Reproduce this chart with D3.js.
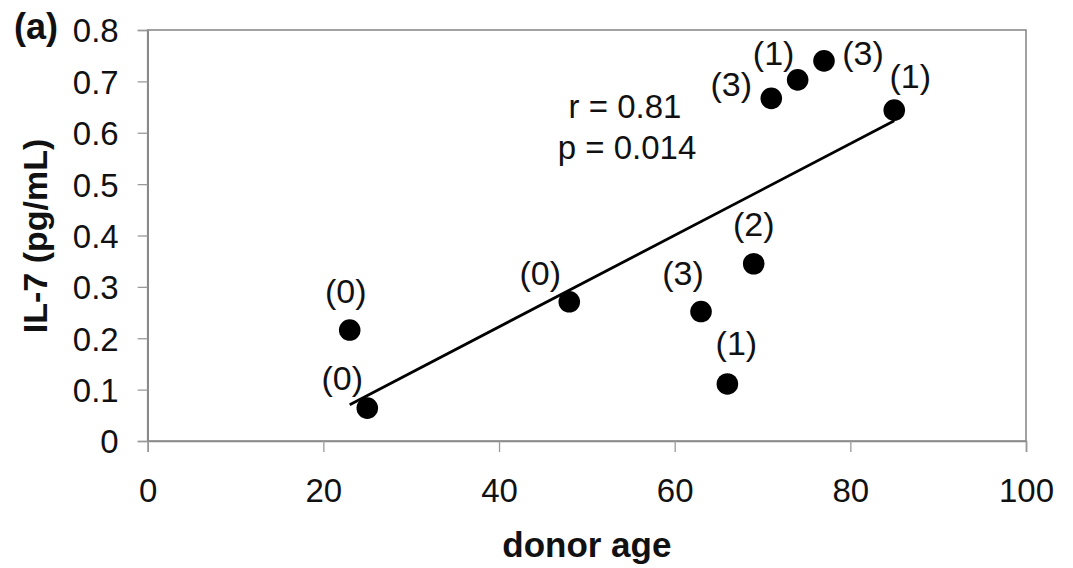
<!DOCTYPE html>
<html>
<head>
<meta charset="utf-8">
<script src="https://cdn.jsdelivr.net/npm/d3@7"></script>
<style>
  html, body { margin: 0; padding: 0; background: #fff; }
  svg { display: block; }
  text { font-family: "Liberation Sans", Arial, sans-serif; fill: #111; }
</style>
</head>
<body>
<svg id="chart" width="1073" height="568"></svg>
<script>
// ---- data ----
const donorAge = [23, 25, 48, 63, 66, 69, 71, 74, 77, 85];
const il7      = [0.216, 0.064, 0.271, 0.252, 0.111, 0.345, 0.667, 0.703, 0.740, 0.644];
const pointLabels = ["(0)", "(0)", "(0)", "(3)", "(1)", "(2)", "(3)", "(1)", "(3)", "(1)"];
const xTicks = [0, 20, 40, 60, 80, 100];
const yTicks = [0, 0.1, 0.2, 0.3, 0.4, 0.5, 0.6, 0.7, 0.8];
const statsText = ["r = 0.81", "p = 0.014"];
const panelLabel = "(a)";
const xTitle = "donor age";
const yTitle = "IL-7 (pg/mL)";

// ---- layout ----
const plotLeft = 147.7, plotRight = 1026, plotTop = 30, plotBottom = 441;
const FS = 33;
// label placement offsets (dx, dy) relative to each point
const labelOffsets = [[-4,-27],[-25,-18],[-29,-17],[-18,-27],[9,-29],[0,-28],[-40,-2],[-24,-15],[39,4],[16,-22]];

const svg = d3.select("#chart");
const x = d3.scaleLinear().domain([0, 100]).range([plotLeft, plotRight]);
const y = d3.scaleLinear().domain([0, 0.8]).range([plotBottom, plotTop]);

// frame
svg.append("rect")
  .attr("x", plotLeft).attr("y", plotTop)
  .attr("width", plotRight - plotLeft).attr("height", plotBottom - plotTop)
  .attr("fill", "none").attr("stroke", "#8a8a8a").attr("stroke-width", 1.6);

// y axis
const yAxis = svg.append("g")
  .attr("transform", `translate(${plotLeft},0)`)
  .call(d3.axisLeft(y).tickValues(yTicks).tickSize(10).tickPadding(19)
        .tickFormat(d => d === 0 ? "0" : d3.format(".1f")(d)));
yAxis.select(".domain").attr("stroke", "#8a8a8a").attr("stroke-width", 1.6);
yAxis.selectAll(".tick line").attr("stroke", "#9a9a9a").attr("stroke-width", 1.3);
yAxis.selectAll(".tick text")
  .attr("font-size", FS).attr("fill", "#111")
  .attr("font-family", "'Liberation Sans', Arial, sans-serif")
  .attr("dy", "0.36em");

// x axis
const xAxis = svg.append("g")
  .attr("transform", `translate(0,${plotBottom})`)
  .call(d3.axisBottom(x).tickValues(xTicks).tickSize(11).tickPadding(27));
xAxis.select(".domain").attr("stroke", "#8a8a8a").attr("stroke-width", 1.6);
xAxis.selectAll(".tick line").attr("stroke", "#9a9a9a").attr("stroke-width", 1.3);
xAxis.selectAll(".tick text")
  .attr("font-size", FS).attr("fill", "#111")
  .attr("font-family", "'Liberation Sans', Arial, sans-serif");

// regression line computed from the points
const n = donorAge.length;
const mx = d3.mean(donorAge), my = d3.mean(il7);
let sxy = 0, sxx = 0;
for (let i = 0; i < n; i++) { sxy += (donorAge[i]-mx)*(il7[i]-my); sxx += (donorAge[i]-mx)**2; }
const slope = sxy / sxx, intercept = my - slope * mx;
const xa = d3.min(donorAge), xb = d3.max(donorAge);
svg.append("line")
  .attr("x1", x(xa)).attr("y1", y(intercept + slope*xa))
  .attr("x2", x(xb)).attr("y2", y(intercept + slope*xb))
  .attr("stroke", "#000").attr("stroke-width", 2.8);

// points
const pts = donorAge.map((a, i) => ({a, v: il7[i], lab: pointLabels[i], off: labelOffsets[i]}));
svg.append("g").selectAll("circle").data(pts).join("circle")
  .attr("cx", d => x(d.a)).attr("cy", d => y(d.v)).attr("r", 10.8).attr("fill", "#000");

svg.append("g").selectAll("text").data(pts).join("text")
  .attr("x", d => x(d.a) + d.off[0]).attr("y", d => y(d.v) + d.off[1])
  .attr("text-anchor", "middle").attr("font-size", 34)
  .text(d => d.lab);

// stats
svg.append("text").attr("x", 625).attr("y", 118).attr("text-anchor", "middle")
  .attr("font-size", FS).text(statsText[0]);
svg.append("text").attr("x", 627).attr("y", 159).attr("text-anchor", "middle")
  .attr("font-size", FS).text(statsText[1]);

// panel label
svg.append("text").attr("x", 14).attr("y", 39).attr("font-size", 36)
  .attr("font-weight", "bold").text(panelLabel);

// axis titles
svg.append("text").attr("x", (plotLeft + plotRight)/2).attr("y", 557)
  .attr("text-anchor", "middle").attr("font-size", 35).attr("font-weight", "bold").text(xTitle);
svg.append("text").attr("transform", `translate(47,236) rotate(-90)`)
  .attr("text-anchor", "middle").attr("font-size", 34).attr("font-weight", "bold").text(yTitle);
</script>
</body>
</html>
